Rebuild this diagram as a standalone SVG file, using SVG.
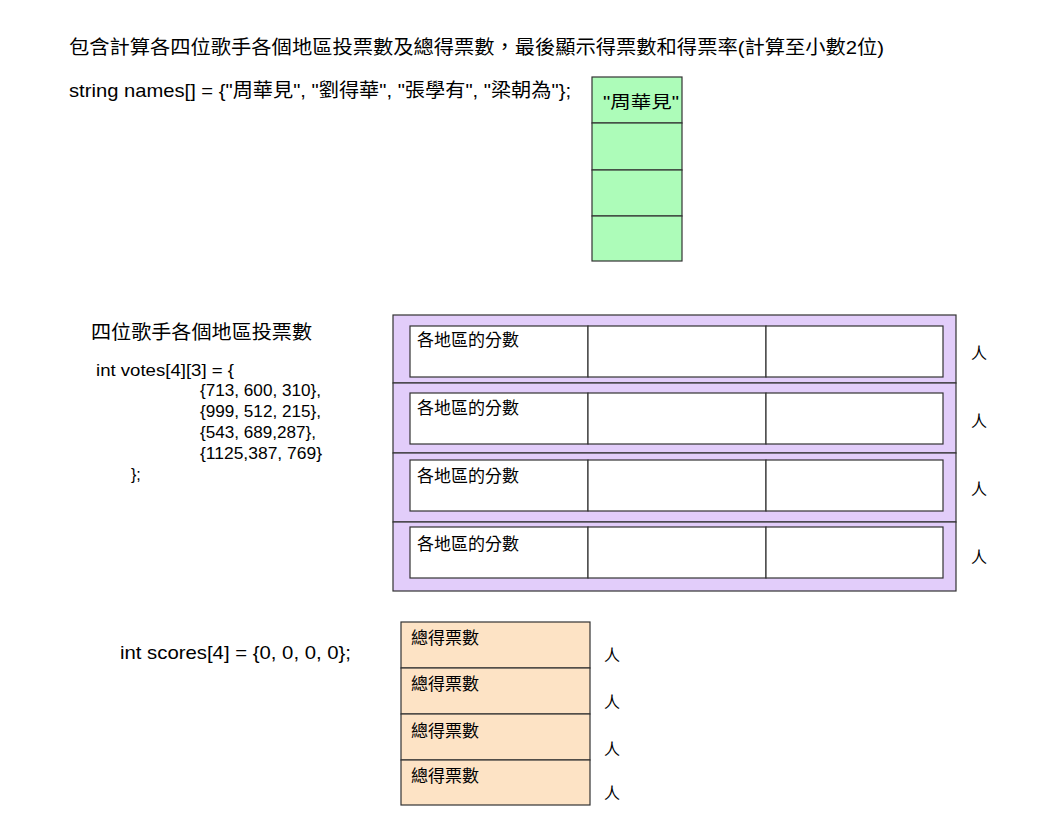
<svg xmlns="http://www.w3.org/2000/svg" width="1057" height="818" viewBox="0 0 1057 818">
<style>
text { font-family: "Liberation Sans", "Noto Sans CJK TC", sans-serif; fill: #000; }
.t20 { font-size: 19px; }
.t16 { font-size: 16px; }
.t17 { font-size: 17px; }
.cell { stroke: #333; stroke-width: 1.2; }
.green { fill: #adfcb9; }
.purple { fill: #e2cdfa; }
.white { fill: #fff; }
.orange { fill: #fde3c5; }
</style>
<rect width="1057" height="818" fill="#fff"/>
<g id="title">
<text class="t20" x="69" y="54" textLength="815" lengthAdjust="spacingAndGlyphs">包含計算各四位歌手各個地區投票數及總得票數，最後顯示得票數和得票率(計算至小數2位)</text>
</g>
<g id="names-decl">
<text class="t20" x="69" y="97" textLength="502" lengthAdjust="spacingAndGlyphs">string names[] = {"周華見", "劉得華", "張學有", "梁朝為"};</text>
</g>
<g id="names-array">
<rect class="cell green" x="592" y="77" width="90" height="46"/>
<rect class="cell green" x="592" y="123" width="90" height="47"/>
<rect class="cell green" x="592" y="170" width="90" height="46"/>
<rect class="cell green" x="592" y="216" width="90" height="45"/>
<text class="t17" x="603" y="108" textLength="76" lengthAdjust="spacingAndGlyphs">"周華見"</text>
</g>
<g id="votes-decl">
<text class="t20" x="91" y="339" textLength="221" lengthAdjust="spacingAndGlyphs">四位歌手各個地區投票數</text>
<text class="t16" x="96" y="376" textLength="138" lengthAdjust="spacingAndGlyphs">int votes[4][3] = {</text>
<text class="t16" x="200" y="396" textLength="121" lengthAdjust="spacingAndGlyphs">{713, 600, 310},</text>
<text class="t16" x="200" y="417" textLength="121" lengthAdjust="spacingAndGlyphs">{999, 512, 215},</text>
<text class="t16" x="200" y="438" textLength="116" lengthAdjust="spacingAndGlyphs">{543, 689,287},</text>
<text class="t16" x="200" y="459" textLength="122" lengthAdjust="spacingAndGlyphs">{1125,387, 769}</text>
<text class="t16" x="131" y="480">};</text>
</g>
<g id="votes-array">
<rect class="cell purple" x="393" y="315" width="563" height="68"/>
<rect class="cell purple" x="393" y="383" width="563" height="70"/>
<rect class="cell purple" x="393" y="453" width="563" height="69"/>
<rect class="cell purple" x="393" y="522" width="563" height="69"/>
<g class="row">
<rect class="cell white" x="410" y="326" width="178" height="51"/>
<rect class="cell white" x="588" y="326" width="178" height="51"/>
<rect class="cell white" x="766" y="326" width="177" height="51"/>
<text class="t17" x="417" y="346">各地區的分數</text>
</g>
<g class="row">
<rect class="cell white" x="410" y="393" width="178" height="51"/>
<rect class="cell white" x="588" y="393" width="178" height="51"/>
<rect class="cell white" x="766" y="393" width="177" height="51"/>
<text class="t17" x="417" y="414">各地區的分數</text>
</g>
<g class="row">
<rect class="cell white" x="410" y="460" width="178" height="51"/>
<rect class="cell white" x="588" y="460" width="178" height="51"/>
<rect class="cell white" x="766" y="460" width="177" height="51"/>
<text class="t17" x="417" y="482">各地區的分數</text>
</g>
<g class="row">
<rect class="cell white" x="410" y="527" width="178" height="51"/>
<rect class="cell white" x="588" y="527" width="178" height="51"/>
<rect class="cell white" x="766" y="527" width="177" height="51"/>
<text class="t17" x="417" y="550">各地區的分數</text>
</g>
<text class="t16" x="971" y="359">人</text>
<text class="t16" x="971" y="427">人</text>
<text class="t16" x="971" y="495">人</text>
<text class="t16" x="971" y="563">人</text>
</g>
<g id="scores-decl">
<text class="t20" x="120" y="659" textLength="231" lengthAdjust="spacingAndGlyphs">int scores[4] = {0, 0, 0, 0};</text>
</g>
<g id="scores-array">
<rect class="cell orange" x="401" y="622" width="189" height="46"/>
<rect class="cell orange" x="401" y="668" width="189" height="46"/>
<rect class="cell orange" x="401" y="714" width="189" height="46"/>
<rect class="cell orange" x="401" y="760" width="189" height="45"/>
<text class="t17" x="411" y="644">總得票數</text>
<text class="t17" x="411" y="690">總得票數</text>
<text class="t17" x="411" y="737">總得票數</text>
<text class="t17" x="411" y="782">總得票數</text>
<text class="t16" x="604" y="661">人</text>
<text class="t16" x="604" y="708">人</text>
<text class="t16" x="604" y="755">人</text>
<text class="t16" x="604" y="799">人</text>
</g>
<g id="connectors"></g>
</svg>
